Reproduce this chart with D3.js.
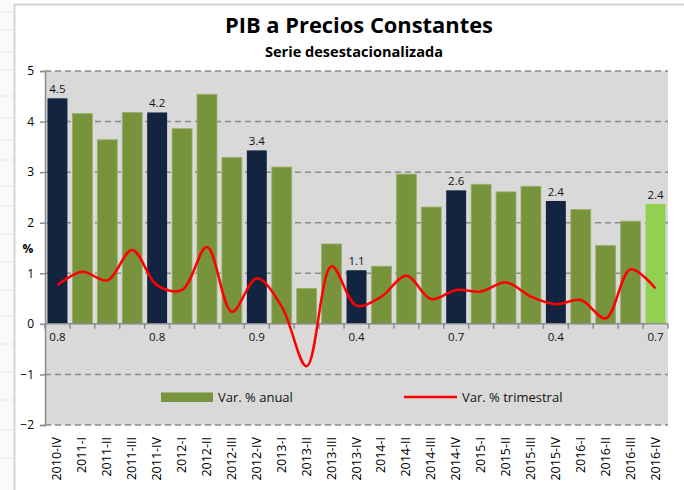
<!DOCTYPE html>
<html>
<head>
<meta charset="utf-8">
<script src="https://cdn.jsdelivr.net/npm/d3@7"></script>
<style>
  body { margin: 0; background: #fff; }
  svg { display: block; font-family: "Open Sans", "Noto Sans", sans-serif; }
</style>
</head>
<body>
<script>
  // Trimestres
  const quarters = [
    "2010-IV", "2011-I", "2011-II", "2011-III", "2011-IV",
    "2012-I", "2012-II", "2012-III", "2012-IV",
    "2013-I", "2013-II", "2013-III", "2013-IV",
    "2014-I", "2014-II", "2014-III", "2014-IV",
    "2015-I", "2015-II", "2015-III", "2015-IV",
    "2016-I", "2016-II", "2016-III", "2016-IV"
  ];

  // Var. % anual (barras)
  const annual = [
    4.46, 4.16, 3.64, 4.18, 4.18,
    3.86, 4.54, 3.29, 3.43,
    3.10, 0.70, 1.58, 1.06,
    1.14, 2.96, 2.31, 2.64,
    2.76, 2.61, 2.72, 2.43,
    2.26, 1.55, 2.03, 2.37
  ];

  // Var. % trimestral (línea)
  const quarterly = [
    0.77, 1.03, 0.86, 1.46, 0.76,
    0.67, 1.52, 0.24, 0.90,
    0.34, -0.84, 1.14, 0.36,
    0.54, 0.95, 0.49, 0.67,
    0.64, 0.82, 0.54, 0.39,
    0.47, 0.11, 1.08, 0.70
  ];

  // cuartos trimestres resaltados con etiquetas
  const highlighted = ["2010-IV", "2011-IV", "2012-IV", "2013-IV", "2014-IV", "2015-IV", "2016-IV"];
  const latest = "2016-IV";

  const yTicks = [-2, -1, 0, 1, 2, 3, 4, 5];

  const rows = quarters.map((q, i) => ({ q, annual: annual[i], quarterly: quarterly[i] }));

  const W = 684, H = 490;
  const plot = { left: 45, right: 668, top: 71, bottom: 425 };

  const svg = d3.select("body").append("svg")
    .attr("width", W)
    .attr("height", H);

  // fondo del documento a la izquierda
  svg.append("rect").attr("x", 0).attr("y", 0).attr("width", 14).attr("height", H).attr("fill", "#fafafa");
  [12, 30, 52, 70, 96, 118, 140, 160, 186, 206, 234, 262, 290, 316, 344, 372, 400, 430, 458].forEach(y => {
    svg.append("line").attr("x1", 0).attr("x2", 13).attr("y1", y).attr("y2", y)
      .attr("stroke", "#e6e6e6").attr("stroke-width", 1);
  });

  // marco del gráfico
  svg.append("rect")
    .attr("x", 14.5).attr("y", 4.5)
    .attr("width", W + 10).attr("height", H + 10)
    .attr("fill", "#fff")
    .attr("stroke", "#d4d4d4")
    .attr("stroke-width", 2);

  const x = d3.scaleBand()
    .domain(quarters)
    .range([plot.left, plot.right])
    .paddingInner(0.2)
    .paddingOuter(0.1);

  const y = d3.scaleLinear()
    .domain([-2, 5])
    .range([plot.bottom, plot.top]);

  // área de trazado
  svg.append("rect")
    .attr("x", plot.left).attr("y", plot.top)
    .attr("width", plot.right - plot.left)
    .attr("height", plot.bottom - plot.top)
    .attr("fill", "#d9d9d9");

  // líneas de cuadrícula
  svg.append("g")
    .selectAll("line")
    .data(yTicks.filter(d => d !== 0))
    .join("line")
    .attr("x1", plot.left).attr("x2", plot.right)
    .attr("y1", d => y(d)).attr("y2", d => y(d))
    .attr("stroke", "#8c8c8c")
    .attr("stroke-width", 1.5)
    .attr("stroke-dasharray", "6,4");

  // barras
  svg.append("g")
    .selectAll("rect")
    .data(rows)
    .join("rect")
    .attr("x", d => x(d.q))
    .attr("width", x.bandwidth())
    .attr("y", d => y(Math.max(0, d.annual)))
    .attr("height", d => Math.abs(y(d.annual) - y(0)))
    .attr("fill", d => d.q === latest ? "#92d050" : highlighted.includes(d.q) ? "#12243f" : "#77933c")
    .attr("stroke", d => highlighted.includes(d.q) ? "none" : (d.q === latest ? "#a8dc70" : "#9cb06a"))
    .attr("stroke-width", 0.8);

  // eje y
  const yAxis = svg.append("g")
    .attr("transform", `translate(${plot.left},0)`)
    .call(d3.axisLeft(y).tickValues(yTicks).tickSize(5).tickPadding(6).tickFormat(d3.format("d")));
  yAxis.select(".domain").attr("stroke", "#8c8c8c").attr("stroke-width", 1.5);
  yAxis.selectAll(".tick line").attr("stroke", "#8c8c8c").attr("stroke-width", 1.5);
  yAxis.selectAll(".tick text")
    .attr("font-size", 12)
    .attr("fill", "#000")
    .attr("font-family", "'Open Sans', sans-serif");

  svg.append("text")
    .attr("x", 28).attr("y", 253)
    .attr("text-anchor", "middle")
    .attr("font-size", 12)
    .attr("font-weight", "bold")
    .text("%");

  // eje x (en el cero) con marcas entre categorías
  const step = x.step();
  const boundaries = d3.range(quarters.length + 1).map(i => plot.left + i * (plot.right - plot.left) / quarters.length);
  svg.append("line")
    .attr("x1", plot.left).attr("x2", plot.right)
    .attr("y1", y(0)).attr("y2", y(0))
    .attr("stroke", "#8c8c8c").attr("stroke-width", 1.5);
  svg.append("g")
    .selectAll("line")
    .data(boundaries)
    .join("line")
    .attr("x1", d => d).attr("x2", d => d)
    .attr("y1", y(0)).attr("y2", y(0) + 5)
    .attr("stroke", "#8c8c8c").attr("stroke-width", 1.5);

  // etiquetas de categorías, rotadas
  svg.append("g")
    .selectAll("text")
    .data(quarters)
    .join("text")
    .attr("transform", d => `translate(${x(d) + x.bandwidth() / 2 + 4},437) rotate(-90)`)
    .attr("text-anchor", "end")
    .attr("font-size", 12.5)
    .attr("fill", "#000")
    .text(d => d);

  // línea trimestral suavizada
  const line = d3.line()
    .x(d => x(d.q) + x.bandwidth() / 2)
    .y(d => y(d.quarterly))
    .curve(d3.curveCatmullRom.alpha(0.5));

  svg.append("path")
    .datum(rows)
    .attr("d", line)
    .attr("fill", "none")
    .attr("stroke", "#ff0000")
    .attr("stroke-width", 2.5)
    .attr("stroke-linejoin", "round");

  // etiquetas de datos
  const fmt = d3.format(".1f");
  const labeled = rows.filter(d => highlighted.includes(d.q));

  svg.append("g")
    .selectAll("text")
    .data(labeled)
    .join("text")
    .attr("x", d => x(d.q) + x.bandwidth() / 2)
    .attr("y", d => y(d.annual) - 5)
    .attr("text-anchor", "middle")
    .attr("font-size", 11.5)
    .attr("fill", "#111")
    .text(d => fmt(d.annual));

  svg.append("g")
    .selectAll("text")
    .data(labeled)
    .join("text")
    .attr("x", d => x(d.q) + x.bandwidth() / 2)
    .attr("y", y(0) + 17)
    .attr("text-anchor", "middle")
    .attr("font-size", 11.5)
    .attr("fill", "#111")
    .text(d => fmt(d.quarterly));

  // leyenda
  const legend = svg.append("g");
  legend.append("rect")
    .attr("x", 161).attr("y", 392.5)
    .attr("width", 52).attr("height", 9.5)
    .attr("fill", "#77933c");
  legend.append("text")
    .attr("x", 218).attr("y", 402)
    .attr("font-size", 13)
    .attr("fill", "#111")
    .text("Var. % anual");
  legend.append("line")
    .attr("x1", 404).attr("x2", 457)
    .attr("y1", 397).attr("y2", 397)
    .attr("stroke", "#ff0000").attr("stroke-width", 2.5);
  legend.append("text")
    .attr("x", 462).attr("y", 402)
    .attr("font-size", 13)
    .attr("fill", "#111")
    .text("Var. % trimestral");

  // títulos
  svg.append("text")
    .attr("x", 359).attr("y", 33)
    .attr("text-anchor", "middle")
    .attr("font-size", 21)
    .attr("font-weight", "bold")
    .attr("textLength", 268)
    .attr("lengthAdjust", "spacingAndGlyphs")
    .text("PIB a Precios Constantes");

  svg.append("text")
    .attr("x", 354).attr("y", 57)
    .attr("text-anchor", "middle")
    .attr("font-size", 14)
    .attr("font-weight", "bold")
    .attr("textLength", 178)
    .attr("lengthAdjust", "spacingAndGlyphs")
    .text("Serie desestacionalizada");
</script>
</body>
</html>
